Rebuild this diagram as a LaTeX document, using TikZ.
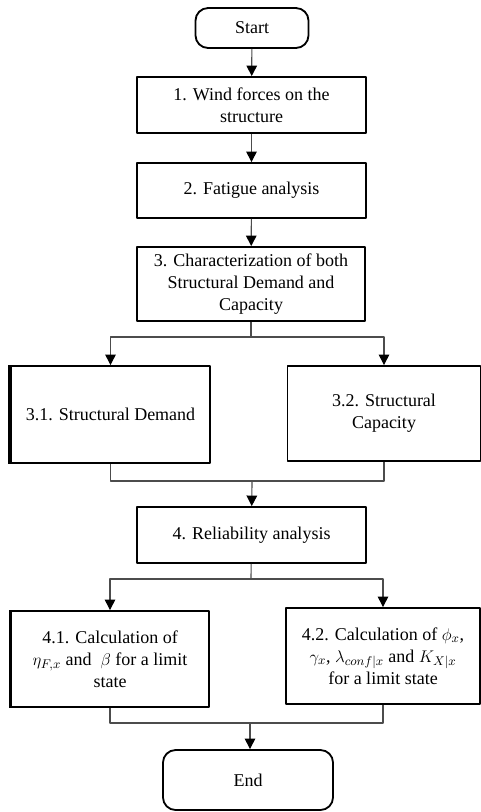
\documentclass[tikz,border=0pt]{standalone}
\usepackage{fontspec}
\setmainfont{Liberation Serif}
\usetikzlibrary{arrows.meta}

\begin{document}
\begin{tikzpicture}[x=0.025cm,y=-0.025cm,line join=bevel]
  \tikzstyle{block}=[draw,line width=1.3pt,align=center,inner sep=2pt,
    font=\fontsize{12.8}{15.6}\selectfont]
  \tikzstyle{term}=[block,rounded corners=9pt]
  \tikzstyle{link}=[draw=black!70,line width=0.8pt]
  \tikzstyle{arrow}=[link,-{Triangle[width=7.5pt,length=7.5pt,black]}]
  \useasboundingbox (0,0) rectangle (481,812);
  \node[term,minimum width=2.825cm,minimum height=1cm] (start) at (252,28) {Start};
  \node[block,minimum width=5.725cm,minimum height=1.4cm] (b1) at (251.5,105)
    {1. Wind forces on the\\ structure};
  \node[block,minimum width=5.725cm,minimum height=1.375cm] (b2) at (251.5,190.5)
    {2. Fatigue analysis};
  \node[block,minimum width=5.7cm,minimum height=1.85cm] (b3) at (251,284)
    {3. Characterization of both\\ Structural Demand and\\ Capacity};
  \node[block,minimum width=4.975cm,minimum height=2.425cm] (b31) at (110.5,414.5)
    {3.1. Structural Demand};
  \node[block,minimum width=4.825cm,minimum height=2.375cm] (b32) at (384,413.5)
    {3.2. Structural\\ Capacity};
  \node[block,minimum width=5.725cm,minimum height=1.4cm] (b4) at (251.5,535)
    {4. Reliability analysis};
  \node[block,minimum width=4.95cm,minimum height=2.4cm] (b41) at (110,659)
    {4.1. Calculation of\\ $\eta_{F,x}$ and \ $\beta$ for a limit\\ state};
  \node[block,minimum width=4.85cm,minimum height=2.4cm] (b42) at (383,656)
    {4.2. Calculation of $\phi_x$,\\ $\gamma_x$, $\lambda_{conf|x}$ and $K_{X|x}$\\ for a limit state};
  \node[term,minimum width=4.25cm,minimum height=1.5cm] (end) at (248,780) {End};
  % heavier left edges
  \draw[line width=2.6pt] (b31.north west) -- (b31.south west);
  \draw[line width=2pt] (b41.north west) -- (b41.south west);
  % splits and joins
  \coordinate (s3) at (251,337);
  \coordinate (m3) at (252,481);
  \coordinate (s4) at (251,579);
  \coordinate (m4) at (250,723);
  \path[arrow] (start) -- (b1);
  \path[arrow] (b1) -- (b2);
  \path[arrow] (b2) -- (b3);
  \path[link] (b3) -- (s3);
  \path[arrow] (s3) -| (b31.north);
  \path[arrow] (s3) -| (b32.north);
  \path[link] (b31.south) |- (m3) -| (b32.south);
  \path[arrow] (m3) -- (b4);
  \path[link] (b4) -- (s4);
  \path[arrow] (s4) -| (b41.north);
  \path[arrow] (s4) -| (b42.north);
  \path[link] (b41.south) |- (m4) -| (b42.south);
  \path[arrow] (m4) -- (end.north -| m4);
\end{tikzpicture}
\end{document}
